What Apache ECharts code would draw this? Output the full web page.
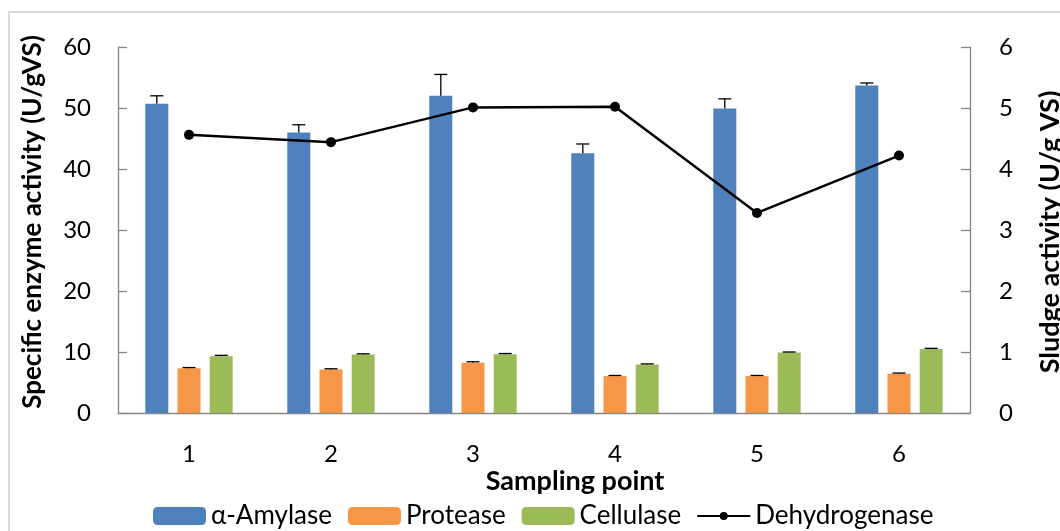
<!DOCTYPE html>
<html>
<head>
<meta charset="utf-8">
<script src="https://cdn.jsdelivr.net/npm/echarts@6/dist/echarts.min.js"></script>
<style>
html,body{margin:0;padding:0;background:#fff;}
#chart{width:1060px;height:531px;}
</style>
</head>
<body>
<div id="chart"></div>
<script>
var categories = ['1', '2', '3', '4', '5', '6'];
var amylase = [50.7, 46.0, 52.0, 42.6, 49.9, 53.7];
var amylaseErr = [1.3, 1.25, 3.5, 1.5, 1.6, 0.4];
var protease = [7.35, 7.15, 8.25, 6.05, 6.05, 6.45];
var proteaseErr = [0.1, 0.1, 0.15, 0.1, 0.1, 0.1];
var cellulase = [9.3, 9.6, 9.65, 7.95, 9.9, 10.5];
var cellulaseErr = [0.15, 0.1, 0.1, 0.1, 0.1, 0.1];
var dehydrogenase = [4.56, 4.44, 5.01, 5.02, 3.28, 4.22];
var leftTicks = [0, 60, 10];
var rightTicks = [0, 6, 1];

var FONT = 'Lato, "Open Sans", sans-serif';
var BW = 23, GAP_RATIO = 0.4;
var STEP = BW * (1 + GAP_RATIO);

function errSeries(values, errs, offsetIndex) {
  return {
    type: 'custom',
    xAxisIndex: 0,
    yAxisIndex: 0,
    z: 5,
    silent: true,
    data: values.map(function (v, i) { return [i, v, errs[i]]; }),
    encode: { x: 0, y: 1 },
    renderItem: function (params, api) {
      var xi = api.value(0), v = api.value(1), e = api.value(2);
      var base = api.coord([xi, v]);
      var top = api.coord([xi, v + e]);
      var x = base[0] + offsetIndex * STEP;
      var style = { stroke: '#000', lineWidth: 1.3 };
      return {
        type: 'group',
        children: [
          { type: 'line', shape: { x1: x, y1: base[1], x2: x, y2: top[1] }, style: style },
          { type: 'line', shape: { x1: x - 6.5, y1: top[1], x2: x + 6.5, y2: top[1] }, style: style }
        ]
      };
    }
  };
}

var lineIcon = 'path://M0,0 L0.05,0 L0.05,0.05 Z M0,18 L0.05,18 L0.05,17.95 Z ' +
  'M0,8.1 L53,8.1 L53,9.9 L0,9.9 Z M22.5,9 A4,4 0 1 1 30.5,9 A4,4 0 1 1 22.5,9 Z';

var chart = echarts.init(document.getElementById('chart'));
var axisLineStyle = { color: '#868686', width: 1.3 };
chart.setOption({
  animation: false,
  backgroundColor: '#fff',
  textStyle: { fontFamily: FONT },
  grid: { left: 118, right: 90, top: 47, bottom: 118, containLabel: false },
  legend: {
    left: 153, top: 503, padding: 0,
    itemWidth: 53, itemHeight: 18, itemGap: 16,
    textStyle: { fontFamily: FONT, fontSize: 26, color: '#000', padding: [0, 0, 0, 0] },
    data: ['α-Amylase', 'Protease', 'Cellulase', { name: 'Dehydrogenase', icon: lineIcon }]
  },
  xAxis: {
    type: 'category',
    data: categories,
    axisLine: { lineStyle: axisLineStyle },
    axisTick: { inside: true, length: 9, lineStyle: axisLineStyle },
    axisLabel: { fontFamily: FONT, fontSize: 24, color: '#000', margin: 29 },
    splitLine: { show: false }
  },
  yAxis: [
    {
      type: 'value', min: leftTicks[0], max: leftTicks[1], interval: leftTicks[2],
      axisLine: { show: true, lineStyle: axisLineStyle },
      axisTick: { show: true, inside: true, length: 9, lineStyle: axisLineStyle },
      axisLabel: { fontFamily: FONT, fontSize: 24, color: '#000', margin: 27 },
      splitLine: { show: false }
    },
    {
      type: 'value', min: rightTicks[0], max: rightTicks[1], interval: rightTicks[2],
      position: 'right',
      axisLine: { show: true, lineStyle: axisLineStyle },
      axisTick: { show: true, inside: true, length: 9, lineStyle: axisLineStyle },
      axisLabel: { fontFamily: FONT, fontSize: 24, color: '#000', margin: 29 },
      splitLine: { show: false }
    }
  ],
  graphic: [
    { type: 'rect', silent: true, z: -1, shape: { x: 9, y: 12, width: 1100, height: 600 },
      style: { fill: 'none', stroke: '#d9d9d9', lineWidth: 2 } },
    { type: 'text', x: 33, y: 222, rotation: Math.PI / 2,
      style: { text: 'Specific enzyme activity (U/gVS)', font: 'bold 26px ' + FONT, fill: '#000',
        align: 'center', verticalAlign: 'middle' } },
    { type: 'text', x: 1050, y: 232, rotation: Math.PI / 2,
      style: { text: 'Sludge activity (U/g VS)', font: 'bold 27px ' + FONT, fill: '#000',
        align: 'center', verticalAlign: 'middle' } },
    { type: 'text', x: 575, y: 481,
      style: { text: 'Sampling point', font: 'bold 27px ' + FONT, fill: '#000',
        align: 'center', verticalAlign: 'middle' } }
  ],
  series: [
    { name: 'α-Amylase', type: 'bar', data: amylase, barWidth: BW, barGap: (GAP_RATIO * 100) + '%',
      itemStyle: { color: '#4F81BD' } },
    { name: 'Protease', type: 'bar', data: protease, barWidth: BW, barGap: (GAP_RATIO * 100) + '%',
      itemStyle: { color: '#F79646' } },
    { name: 'Cellulase', type: 'bar', data: cellulase, barWidth: BW, barGap: (GAP_RATIO * 100) + '%',
      itemStyle: { color: '#9BBB59' } },
    errSeries(amylase, amylaseErr, -1),
    errSeries(protease, proteaseErr, 0),
    errSeries(cellulase, cellulaseErr, 1),
    { name: 'Dehydrogenase', type: 'line', yAxisIndex: 1, data: dehydrogenase, z: 10,
      symbol: 'circle', symbolSize: 10,
      lineStyle: { color: '#000', width: 2.5 },
      itemStyle: { color: '#000' } }
  ]
});
</script>
</body>
</html>
